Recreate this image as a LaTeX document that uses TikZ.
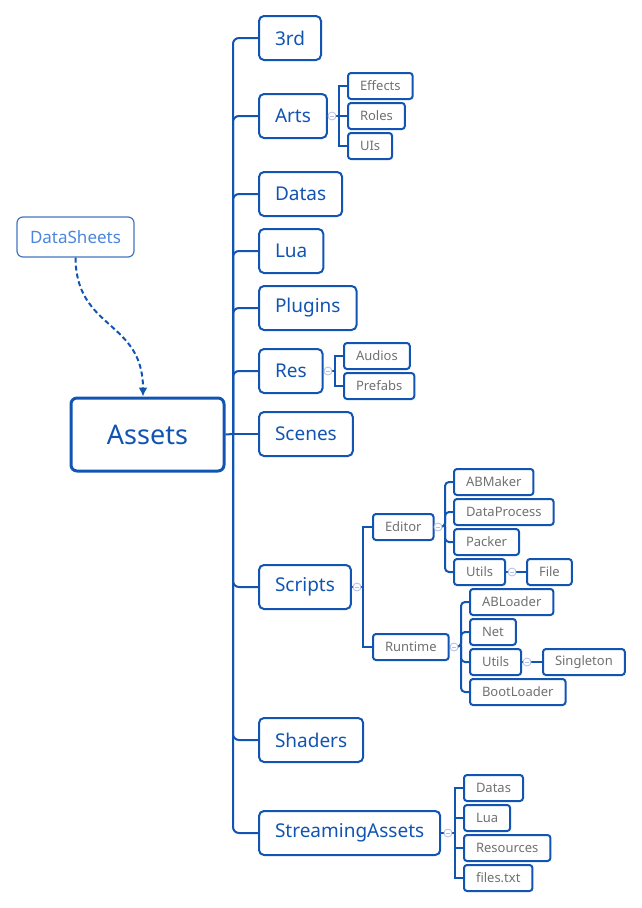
\documentclass[tikz,border=0pt]{standalone}
\usepackage{fontspec}
\setmainfont{Noto Sans}
\usetikzlibrary{arrows.meta}
\definecolor{mapblue}{RGB}{17,84,178}
\definecolor{leafgray}{RGB}{112,112,112}
\definecolor{sheetblue}{RGB}{74,134,222}
\definecolor{foldblue}{RGB}{176,190,232}
\begin{document}
\begin{tikzpicture}[x=1pt,y=-1pt,
	root/.style={draw=mapblue,line width=3pt,rounded corners=6pt,minimum width=153pt,minimum height=73pt,text=mapblue,font=\fontsize{27}{30}\selectfont},
	top/.style={draw=mapblue,line width=2pt,rounded corners=5pt,minimum height=44pt,inner xsep=16pt,anchor=west,text=mapblue,font=\fontsize{19}{22}\selectfont},
	leaf/.style={draw=mapblue,line width=2pt,rounded corners=3pt,minimum height=26pt,inner xsep=12pt,anchor=west,text=leafgray,font=\fontsize{13}{15}\selectfont},
	link/.style={draw=mapblue,line width=2pt,rounded corners=6pt},
	sub/.style={draw=mapblue,line width=2pt},
	fold/.style={circle,draw=foldblue,fill=white,line width=0.8pt,inner sep=0pt,minimum size=8pt}]
	\useasboundingbox (0,0) rectangle (641,908);

	% root and floating topic
	\node[root] (assets) at (147.5,434.5) {Assets};
	\node[draw=mapblue!80,line width=1.2pt,rounded corners=6pt,minimum width=117pt,minimum height=40pt,text=sheetblue,font=\fontsize{17}{20}\selectfont] (sheets) at (75.5,237) {DataSheets};
	\draw[mapblue,line width=2pt,dash pattern=on 5pt off 3pt,-{Latex[length=9pt,width=9pt]}] (sheets.south) .. controls (76,330) and (143,320) .. (assets.north -| 143,0);

	% main topics
	\node[top] (third) at (258,38) {3rd};
	\node[top] (arts) at (258,116) {Arts};
	\node[top] (datas) at (258,194) {Datas};
	\node[top] (lua) at (258,251) {Lua};
	\node[top] (plugins) at (258,308) {Plugins};
	\node[top] (res) at (258,371) {Res};
	\node[top] (scenes) at (258,434) {Scenes};
	\node[top] (scripts) at (258,587) {Scripts};
	\node[top] (shaders) at (258,740) {Shaders};
	\node[top] (streaming) at (258,833) {StreamingAssets};

	\coordinate (hub) at (233,434);
	\draw[link] (assets.east) -- (hub);
	\draw[link] (hub) |- (third.west);  \draw[link] (hub) |- (arts.west);
	\draw[link] (hub) |- (datas.west);  \draw[link] (hub) |- (lua.west);
	\draw[link] (hub) |- (plugins.west);  \draw[link] (hub) |- (res.west);
	\draw[link] (hub) -- (scenes.west);  \draw[link] (hub) |- (scripts.west);
	\draw[link] (hub) |- (shaders.west);  \draw[link] (hub) |- (streaming.west);

	% Arts
	\node[leaf] (effects) at (347,86) {Effects};
	\node[leaf] (roles) at (347,116) {Roles};
	\node[leaf] (uis) at (347,146) {UIs};
	\coordinate (artsf) at (332,116);
	\coordinate (artsb) at (339,116);
	\draw[sub] (arts.east) -- (artsb) |- (effects.west);
	\draw[sub] (artsb) -- (roles.west);
	\draw[sub] (artsb) |- (uis.west);

	% Res
	\node[leaf] (audios) at (343,356) {Audios};
	\node[leaf] (prefabs) at (343,386) {Prefabs};
	\coordinate (resf) at (328,371);
	\coordinate (resb) at (335,371);
	\draw[sub] (res.east) -- (resb) |- (audios.west);
	\draw[sub] (resb) |- (prefabs.west);

	% Scripts
	\node[leaf] (editor) at (372,527) {Editor};
	\node[leaf] (runtime) at (372,647) {Runtime};
	\coordinate (scriptsf) at (357,587);
	\coordinate (scriptsb) at (363,587);
	\draw[sub] (scripts.east) -- (scriptsb) |- (editor.west);
	\draw[sub] (scriptsb) |- (runtime.west);

	\node[leaf] (abmaker) at (453,482) {ABMaker};
	\node[leaf] (dataprocess) at (453,512) {DataProcess};
	\node[leaf] (packer) at (453,542) {Packer};
	\node[leaf] (eutils) at (453,572) {Utils};
	\node[leaf] (file) at (526,572) {File};
	\coordinate (editorf) at (438,527);
	\coordinate (editorb) at (445,527);
	\draw[sub,rounded corners=4pt] (editor.east) -- (editorb) |- (abmaker.west);
	\draw[sub,rounded corners=4pt] (editorb) |- (dataprocess.west);
	\draw[sub,rounded corners=4pt] (editorb) |- (packer.west);
	\draw[sub,rounded corners=4pt] (editorb) |- (eutils.west);
	\coordinate (eutilsf) at (512,572);
	\draw[sub] (eutils.east) -- (file.west);

	\node[leaf] (abloader) at (469,602) {ABLoader};
	\node[leaf] (net) at (469,632) {Net};
	\node[leaf] (rutils) at (469,662) {Utils};
	\node[leaf] (singleton) at (542,662) {Singleton};
	\node[leaf] (bootloader) at (469,692) {BootLoader};
	\coordinate (runtimef) at (454,647);
	\coordinate (runtimeb) at (461,647);
	\draw[sub,rounded corners=4pt] (runtime.east) -- (runtimeb) |- (abloader.west);
	\draw[sub,rounded corners=4pt] (runtimeb) |- (net.west);
	\draw[sub,rounded corners=4pt] (runtimeb) |- (rutils.west);
	\draw[sub,rounded corners=4pt] (runtimeb) |- (bootloader.west);
	\coordinate (rutilsf) at (527,662);
	\draw[sub] (rutils.east) -- (singleton.west);

	% StreamingAssets
	\node[leaf] (sdatas) at (463,788) {Datas};
	\node[leaf] (slua) at (463,818) {Lua};
	\node[leaf] (resources) at (463,848) {Resources};
	\node[leaf] (files) at (463,878) {files.txt};
	\coordinate (streamingf) at (448,833);
	\coordinate (streamingb) at (455,833);
	\draw[sub] (streaming.east) -- (streamingb) |- (sdatas.west);
	\draw[sub] (streamingb) |- (slua.west);
	\draw[sub] (streamingb) |- (resources.west);
	\draw[sub] (streamingb) |- (files.west);

	% fold marks
	\node[fold] (artsm) at (artsf) {}; \node[fold] (resm) at (resf) {};
	\node[fold] (scriptsm) at (scriptsf) {}; \node[fold] (editorm) at (editorf) {};
	\node[fold] (eutilsm) at (eutilsf) {}; \node[fold] (runtimem) at (runtimef) {};
	\node[fold] (rutilsm) at (rutilsf) {}; \node[fold] (streamingm) at (streamingf) {};
	\foreach \m in {artsm,resm,scriptsm,editorm,eutilsm,runtimem,rutilsm,streamingm}
		\draw[foldblue,line width=0.8pt] ([xshift=-2pt]\m.center) -- ([xshift=2pt]\m.center);
\end{tikzpicture}
\end{document}
